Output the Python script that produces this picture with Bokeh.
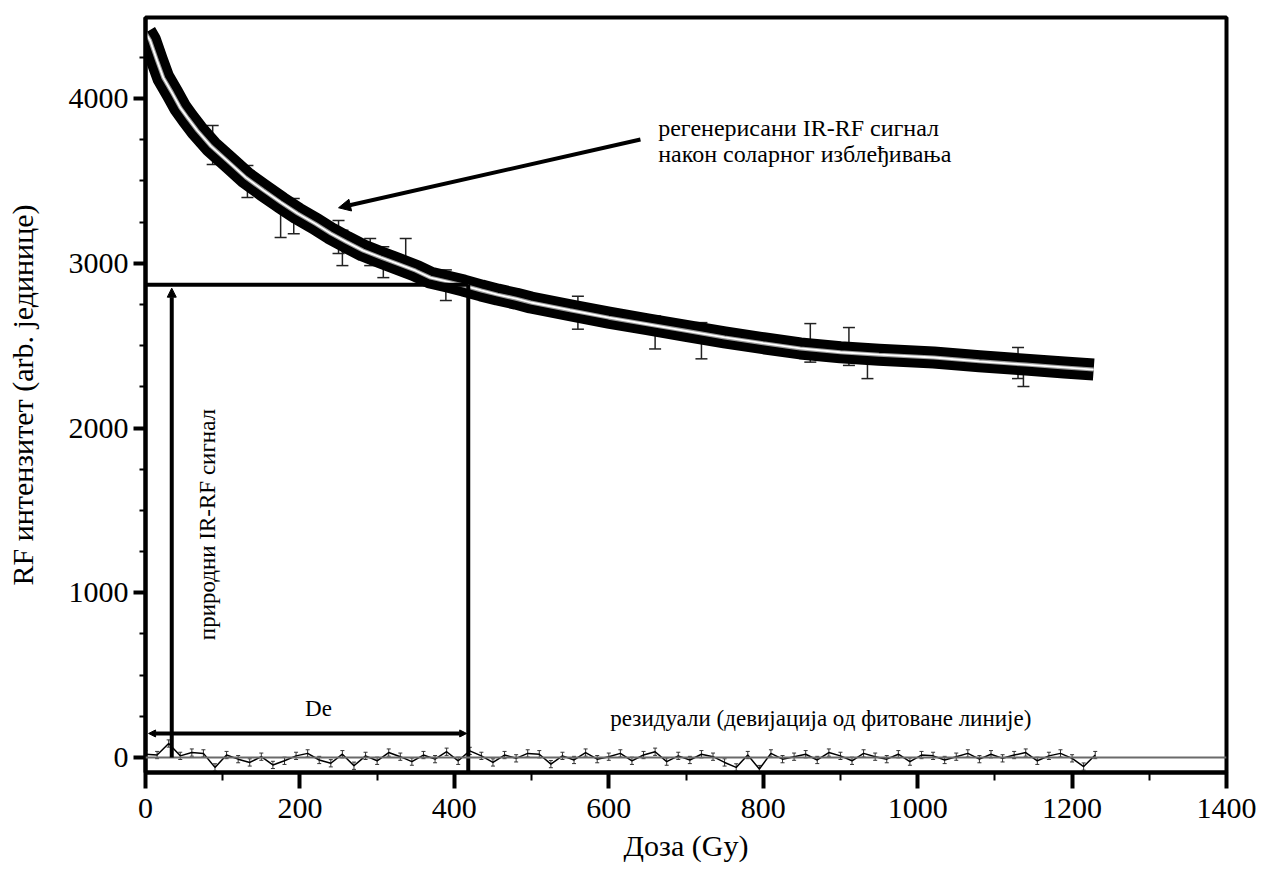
import math
from bokeh.plotting import figure
from bokeh.models import (Range1d, Arrow, NormalHead, Whisker, TeeHead, ColumnDataSource,
                          Label, Span, FixedTicker)
from bokeh.embed import file_html
from bokeh.resources import INLINE

# ---- data ----
x_ticks = [0, 200, 400, 600, 800, 1000, 1200, 1400]
x_minor = [100, 300, 500, 700, 900, 1100, 1300]
y_ticks = [0, 1000, 2000, 3000, 4000]
y_minor = [250, 500, 750, 1250, 1500, 1750, 2250, 2500, 2750, 3250, 3500, 3750, 4250]

# regenerated IR-RF signal (measured band) and fitted line
sig_dose = [0, 6, 15, 23, 35, 45, 55, 67, 85, 110, 130, 153, 175, 197, 220, 240, 260, 282,
            305, 326, 350, 369, 390, 412, 435, 456, 480, 499, 550, 600, 650, 700, 750, 800,
            848, 900, 950, 1021, 1080, 1140, 1190, 1228]
sig_val = [4400, 4352, 4230, 4127, 4030, 3945, 3880, 3806, 3710, 3605, 3520, 3442, 3370, 3302,
           3240, 3181, 3130, 3077, 3035, 2998, 2955, 2913, 2890, 2865, 2835, 2810, 2785, 2762,
           2715, 2670, 2630, 2590, 2550, 2515, 2483, 2460, 2445, 2428, 2405, 2385, 2368, 2355]
fit_dose = sig_dose
fit_val = sig_val

# visible error bars (dose, lower, upper)
err_dose = [87, 132, 175, 192, 250, 255, 291, 308, 337, 389, 560, 660, 720, 861, 911, 935, 1130, 1137]
err_low = [3600, 3400, 3156, 3180, 3060, 2986, 2986, 2913, 2930, 2774, 2600, 2480, 2420, 2400,
           2380, 2300, 2300, 2252]
err_high = [3836, 3593, 3420, 3393, 3260, 3200, 3150, 3100, 3150, 2960, 2800, 2680, 2640, 2634,
            2610, 2500, 2489, 2440]

# residuals (deviation from fitted line), every 15 Gy
res_val = [20, 15, 85, 10, 30, 25, -60, 15, -10, -30, 5, -45, -20, 10, 25, -15, -35, 20, -50, 10,
           -20, 30, 5, -25, 15, -10, 35, -20, 40, 10, -30, 15, -5, 25, 20, -40, 10, -15, 30, -10,
           5, 25, -20, 15, 35, -25, 10, -15, 20, 5, -30, -60, 15, -70, 25, -10, 5, 20, -15, 30,
           10, -20, 25, 5, -10, 20, -25, 15, 10, -15, 5, 25, -10, 20, -5, 15, 30, -20, 10, 25,
           -5, -55, 15]
res_dose = [i * 15 for i in range(len(res_val))]

# equivalent dose construction
natural_dose = 34
natural_signal = 2869
de_dose = 418
de_arrow_y = 146

# ---- figure ----
FONT = "Liberation Serif"
p = figure(width=1271, height=874, output_backend="svg", toolbar_location=None,
           x_range=Range1d(0, 1400), y_range=Range1d(-91, 4492),
           min_border_left=145, min_border_right=45, min_border_top=17, min_border_bottom=102,
           x_axis_label="Доза (Gy)", y_axis_label="RF интензитет (arb. јединице)")
p.grid.visible = False
p.outline_line_color = "black"
p.outline_line_width = 4
p.outline_line_alpha = 1.0

p.xaxis.ticker = FixedTicker(ticks=x_ticks, minor_ticks=x_minor)
p.yaxis.ticker = FixedTicker(ticks=y_ticks, minor_ticks=y_minor)
for ax in (p.xaxis[0], p.yaxis[0]):
    ax.axis_line_width = 4
    ax.axis_line_color = "black"
    ax.major_tick_line_width = 4
    ax.minor_tick_line_width = 2
    ax.major_tick_in = 0
    ax.minor_tick_in = 0
    ax.major_label_text_font = FONT
    ax.major_label_text_font_size = "30px"
    ax.major_label_text_color = "black"
    ax.axis_label_text_font = FONT
    ax.axis_label_text_font_size = "30px"
    ax.axis_label_text_font_style = "normal"
    ax.axis_label_text_color = "black"
p.xaxis.major_tick_out = 16
p.xaxis.minor_tick_out = 8
p.yaxis.major_tick_out = 12
p.yaxis.minor_tick_out = 6
p.xaxis.major_label_standoff = 10
p.yaxis.major_label_standoff = 5
p.xaxis.axis_label_standoff = 8
p.yaxis.axis_label_standoff = 27

# zero line of residuals
p.add_layout(Span(location=0, dimension="width", line_color="#6a6a6a", line_width=2))

# residuals
res_src = ColumnDataSource(dict(x=res_dose, y=res_val,
                                lo=[v - 22 for v in res_val], hi=[v + 22 for v in res_val]))
p.add_layout(Whisker(source=res_src, base="x", lower="lo", upper="hi", dimension="height",
                     line_color="#333333", line_width=1,
                     upper_head=TeeHead(size=4, line_color="#333333", line_width=1),
                     lower_head=TeeHead(size=4, line_color="#333333", line_width=1)))
p.line(res_dose, res_val, line_color="black", line_width=1.5)

# error bars of the measured signal
err_src = ColumnDataSource(dict(x=err_dose, lo=err_low, hi=err_high))
p.add_layout(Whisker(source=err_src, base="x", lower="lo", upper="hi", dimension="height",
                     line_color="#222222", line_width=1.5,
                     upper_head=TeeHead(size=12, line_color="#222222", line_width=1.5),
                     lower_head=TeeHead(size=12, line_color="#222222", line_width=1.5)))

# measured signal band and fitted line
p.line(sig_dose, sig_val, line_color="black", line_width=22, line_join="round", line_cap="butt")
p.line(fit_dose, fit_val, line_color="#9a9a9a", line_width=4)
p.line(fit_dose, fit_val, line_color="white", line_width=1.8)

# equivalent-dose construction lines
p.segment(x0=[0], y0=[natural_signal], x1=[de_dose], y1=[natural_signal], line_color="black", line_width=4)
p.segment(x0=[de_dose], y0=[-91], x1=[de_dose], y1=[natural_signal], line_color="black", line_width=4)
p.add_layout(Arrow(end=NormalHead(size=9, fill_color="black", line_color="black"),
                   x_start=natural_dose, y_start=0, x_end=natural_dose, y_end=natural_signal - 20,
                   line_color="black", line_width=4))
p.add_layout(Arrow(start=NormalHead(size=7, fill_color="black", line_color="black"),
                   end=NormalHead(size=7, fill_color="black", line_color="black"),
                   x_start=4, y_start=de_arrow_y, x_end=de_dose - 2, y_end=de_arrow_y,
                   line_color="black", line_width=4))
p.add_layout(Arrow(end=NormalHead(size=12, fill_color="black", line_color="black"),
                   x_start=641, y_start=3751, x_end=250, y_end=3337,
                   line_color="black", line_width=4))

# annotation texts
def lab(x, y, t, **kw):
    d = dict(text_font=FONT, text_font_size="23px", text_color="black")
    d.update(kw)
    p.add_layout(Label(x=x, y=y, text=t, **d))

lab(664, 3824, "регенерисани IR-RF сигнал", text_baseline="alphabetic", text_font_size="24px")
lab(664, 3666, "након соларног избледјивања".replace("дј", "ђ"), text_baseline="alphabetic",
    text_font_size="24px")
lab(80, 1414, "природни IR-RF сигнал", angle=math.pi / 2, text_align="center", text_baseline="middle")
lab(224, 297, "De", text_align="center", text_baseline="middle")
lab(602, 237, "резидуали (девијација од фитоване линије)", text_baseline="middle")

open("out.html", "w").write(file_html(p, INLINE))
